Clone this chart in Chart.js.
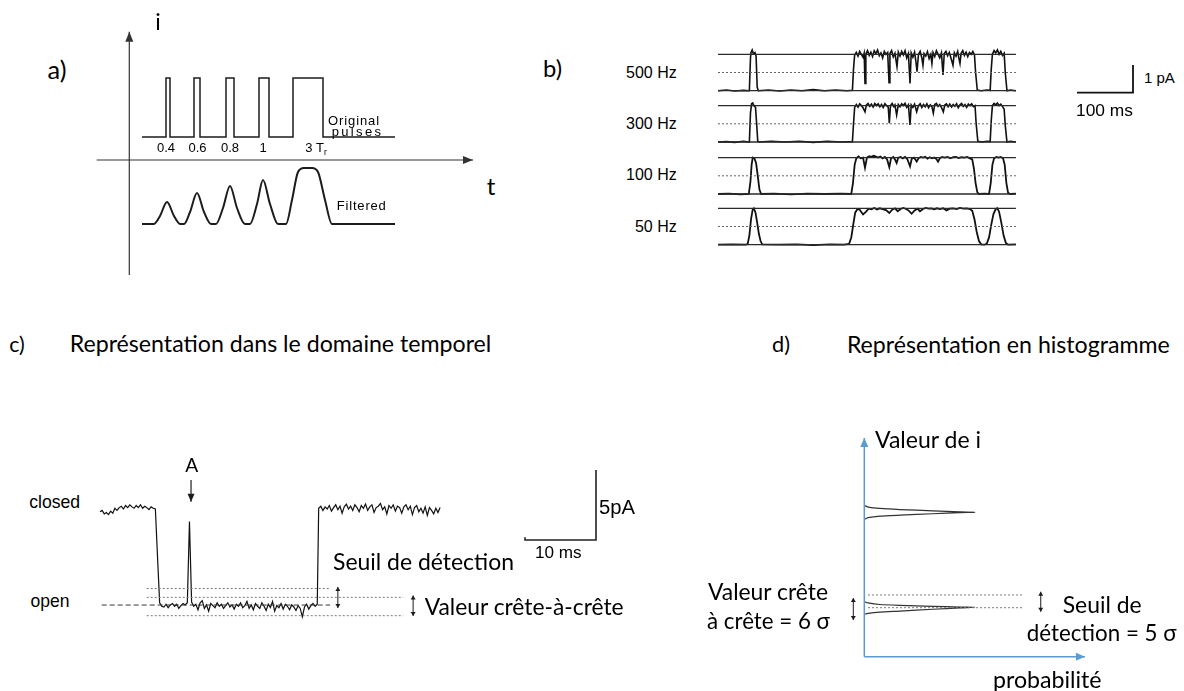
<!DOCTYPE html>
<html lang="fr">
<head>
<meta charset="UTF-8">
<script src="https://cdn.jsdelivr.net/npm/chart.js"></script>
<title>Filtrage et seuil de détection</title>
<style>
  body { margin: 0; width: 1184px; height: 691px; background: #fff; position: relative; overflow: hidden; }
  canvas { position: absolute; }
  .lbl { position: absolute; white-space: nowrap; line-height: 1; color: #000; }
  .lbl sub { font-size: 65%; vertical-align: -0.3em; line-height: 0; }
</style>
</head>
<body>
<script>
// ---------- a) pulses (time in units of Tr, current in arbitrary units) ----------
const pulseStart = [3.67, 6.47, 9.67, 12.97, 16.37];
const pulseWidth = [0.4, 0.6, 0.8, 1, 3];
const pulseLabels = ['0.4', '0.6', '0.8', '1', '3 T<sub>r</sub>'];
const pulseBase = 2.3, pulseTop = 8.2, pulseFrom = 1.27, pulseTo = 26.57;
const filtT = [1.27, 2.47, 3.07, 3.77, 4.47, 5.07, 5.47, 6.07, 6.77, 7.47, 8.17, 8.67, 9.37, 10.07, 10.77,
               11.57, 12.07, 12.77, 13.37, 14.07, 14.87, 15.67, 16.27, 16.87, 17.47, 18.27, 18.87, 19.57, 20.27, 26.57];
const filtI = [-6.4, -6.4, -5.6, -4.2, -5.6, -6.4, -6.4, -5.2, -3.3, -5.2, -6.4, -6.4, -4.8, -2.6, -4.8,
               -6.4, -6.4, -4.4, -2.0, -4.4, -6.4, -6.4, -4.0, -1.2, -0.8, -0.8, -1.2, -4.0, -6.4, -6.4];

// ---------- b) single-channel records at 4 filter cut-offs (ms, fraction of unit current) ----------
const filterLabels = ['500 Hz', '300 Hz', '100 Hz', '50 Hz'];
const trace500 = [[0,0],[15,0.02],[30,-0.01],[45,0.01],[56,0],[58,0.9],[59,1.05],[61,1.12],[63,1.02],[66,1.05],[68,0.95],[70,0.1],[72,0],
  [90,0.02],[110,-0.01],[130,0.02],[150,0],[170,0.03],[190,0],[210,0.02],[230,0],[240,0.01],[242,0.6],[244,0.98],[247,1.05],[250,0.95],
  [253,1.08],[256,1],[259,0.92],[261,1.03],[262.5,0.2],[264,1],[267,1.1],[270,0.97],[273,1.06],[276,0.94],[279,1.1],[282,1.02],[285,1.12],
  [288,0.96],[291,1.04],[294,0.9],[297,1.08],[300,1],[303,1.05],[305.4,0.22],[307,1.02],[310,1.1],[313,0.93],[316,1.03],[319.6,0.66],
  [322,1.06],[325,0.95],[328,1.08],[331,0.98],[334,1.1],[337,0.9],[340,1.02],[342.9,0.2],[345,1.04],[348,0.92],[351,1.06],[353,0.85],
  [355.4,0.52],[358,1],[361,1.08],[364,0.9],[366,0.7],[368,1.02],[371,0.95],[374,1.07],[377,0.88],[380,1],[382,0.75],[384,1.05],[387,0.94],
  [390,1.1],[393,1],[396,0.9],[399,1.04],[401.8,0.43],[404,1.02],[407,1.08],[410,0.96],[413,1.05],[416,0.9],[419.6,0.7],[422,1.04],
  [425,0.95],[428,1.08],[430,0.9],[432.1,0.75],[434,1.02],[437,1.1],[440,0.97],[443,1.06],[446,0.94],[449,1.05],[452,1],[455,1.08],
  [458,0.98],[460,0.5],[463,0.02],[470,0],[480,0.02],[486,0.01],[488,0.6],[490,1],[493,1.1],[496,1.04],[499,1.12],[502,1],[505,1.08],
  [508,0.97],[511,1.03],[513,0.5],[516,0],[522,0.02],[532,0]];
const trace300 = [[0,0],[15,0.01],[30,-0.01],[45,0.02],[56,0],[58,0.8],[60,1.05],[62,1.07],[64,1],[67,0.95],[69,0.5],[71,0.02],[73,0],
  [95,0.02],[120,0],[145,0.02],[170,-0.01],[195,0.02],[220,0],[240,0.01],[242,0.5],[244,0.95],[247,1.03],[250,0.96],[253,1.05],[256,1],
  [259,0.94],[262.5,0.83],[265,1.02],[268,1.06],[271,0.98],[274,1.04],[277,0.96],[280,1.06],[283,1],[286,1.05],[289,0.97],[292,1.03],
  [295,0.95],[298,1.05],[301,1],[304,0.96],[305.9,0.52],[308,1],[311,1.06],[314,0.97],[316,1.02],[319,0.74],[322,1.03],[325,0.97],
  [328,1.05],[331,1],[334,1.06],[337,0.95],[340,1.02],[342.9,0.47],[345,1.02],[348,0.95],[351,1.04],[354.8,0.83],[358,1],[361,1.05],
  [364,0.95],[367,1.03],[370,0.97],[373,1.05],[376,0.94],[379,1.02],[382,0.97],[384.5,0.79],[387,1.03],[390,1.06],[393,0.98],[396,1.03],
  [399,0.95],[402.4,0.83],[405,1.02],[408,1.05],[411,0.97],[414,1.04],[417,0.96],[420,1.03],[423,0.98],[426,1.05],[429,0.94],[432,1.02],
  [435,1.06],[438,0.98],[441,1.03],[444,0.95],[447,1.04],[450,1],[453,1.05],[456,0.97],[459,1],[461,0.5],[464,0.02],[472,0],[480,0.02],
  [486,0.01],[488,0.6],[490,1],[493,1.06],[496,1.02],[499,1.07],[502,1],[505,1.04],[508,0.98],[511,0.9],[513,0.45],[516,0],[522,0.02],[532,0]];
const trace100 = [[0,0],[20,0.01],[40,-0.01],[55,0],[58,0.35],[60,0.8],[62,1],[65,0.98],[68,0.85],[71,0.5],[74,0.12],[77,0],[100,0.01],
  [130,-0.01],[160,0.01],[190,0],[220,0.01],[238,0],[241,0.3],[244,0.8],[247,0.98],[251,1.03],[255,0.98],[259,1],[262.5,0.72],[266,1],
  [270,1.04],[274,1.02],[278,1.05],[282,1.03],[286,1],[290,1.03],[294,0.98],[298,1.02],[302,0.95],[305.9,0.74],[309,0.98],[313,1.02],
  [316,0.95],[319,0.85],[322,1],[326,1.02],[330,0.98],[334,1.02],[338,0.96],[342.9,0.76],[346,0.97],[350,1],[354.8,0.89],[358,0.98],
  [362,1.02],[366,1],[370,1.02],[374,0.97],[378,1.01],[382,0.98],[386,1],[390,0.96],[393,0.89],[396,0.98],[400,1.02],[405,1],[410,1.02],
  [415,0.98],[420,1.01],[425,1.02],[430,0.99],[435,1.01],[440,1],[445,1.02],[450,0.98],[454,0.95],[457,0.7],[460,0.3],[463,0.05],[466,0],
  [476,0.01],[484,0],[487,0.3],[490,0.8],[493,0.98],[497,1.02],[501,1],[505,1.02],[509,0.98],[512,0.8],[515,0.3],[518,0.03],[522,0],[532,0.01]];
const trace50 = [[0,0],[25,0.01],[50,0],[53,0.02],[56,0.25],[59,0.7],[62,0.97],[64,1],[67,0.88],[70,0.6],[73,0.3],[76,0.1],[79,0.01],
  [110,0],[140,0.01],[170,-0.01],[200,0.01],[225,0],[234,0.02],[238,0.2],[242,0.6],[245,0.88],[249,0.98],[253,0.96],[259,0.83],[264,0.9],
  [269,0.99],[274,0.97],[279,1.01],[284,0.97],[289,1],[294,0.98],[300,0.95],[305.9,0.87],[311,0.96],[316,1],[321,0.92],[326,0.98],
  [331,1.01],[336,0.98],[341,0.93],[345.8,0.85],[351,0.94],[356,0.99],[360.7,0.92],[366,0.98],[371,1.01],[376,0.99],[381,1],[386,0.97],
  [391,1],[396,0.98],[402,1],[408,0.94],[414,0.99],[420,1],[426,0.98],[432,1.01],[438,0.99],[444,1],[450,0.98],[454,0.93],[458,0.7],
  [462,0.35],[466,0.1],[470,0.01],[476,0],[480,0.03],[484,0.2],[488,0.55],[492,0.85],[496,0.98],[499,1],[502,0.9],[506,0.6],[510,0.25],
  [514,0.05],[518,0],[532,0.01]];
const levelsB = [0, 0.5, 1];          // closed, half (threshold), open
const spanB = [0, 532];               // ms
const scaleBarB = { ms: 100, pA: 1 };

// ---------- c) time-domain record (ms, pA; closed = 0) ----------
const dtC = 0.3;
const segStartC = [0, 8.4, 30.8];
const closedA = [-0.2,-0.1,-0.35,-0.25,-0.4,-0.15,-0.3,0.05,-0.1,0.1,0.2,0,0.25,0.1,0.3,0.15,0.05,0.25,0.1,0.3,
  0.05,0.2,0.1,-0.05,0.15,0.05,0,-3.4];
const openB = [-6.7,-6.95,-7,-6.8,-7.05,-6.85,-6.75,-6.95,-6.8,-7.1, -6.9,-6.75,-6.85,-6.7,-0.9,-6.65,-6.95,-6.8,-7.2,-6.7,
  -6.55,-7.1,-6.85,-7.3,-6.75,-6.9,-7.05,-6.7,-6.95,-6.8, -7.1,-6.9,-6.7,-7,-6.85,-7.15,-6.8,-6.95,-6.7,-7.05,
  -6.9,-6.6,-7.1,-6.85,-7.2,-6.75,-6.95,-7.1,-6.7,-6.95, -7.25,-6.8,-7.05,-6.6,-7.3,-6.9,-7.05,-6.75,-7.15,-6.8,
  -6.95,-7.2,-6.85,-7,-7.25,-6.9,-7.1,-7.7,-7,-6.8, -7.15,-6.9,-6.75,-6.95,-6.8];
const closedC = [0.05,0.2,-0.1,0.15,0,0.25,-0.15,0.1,0.3,-0.05, 0.2,-0.3,0.15,0.35,0,0.2,-0.1,0.3,0.1,-0.2,
  0.25,0.05,0.35,-0.1,0.15,0.3,-0.25,0.1,0.2,0.4, -0.05,0.15,-0.35,0.25,0.05,0.3,-0.15,0.2,0.1,-0.3,
  0.15,0.3,-0.05,0.2,-0.4,0.1,0.25,-0.2,0.05,-0.3, 0.15,-0.45,0.1,-0.1,-0.35,0.05,-0.25,0.1];
const openLevelC = -6.86;
const thresholdC = -5.68;
const peakToPeakC = [-6.31, -7.62];
const scaleBarC = { ms: 10, pA: 5 };

// ---------- d) amplitude histogram (probability, current in pA) ----------
const histP = [0, 0.017, 0.071, 0.162, 0.312, 0.435, 0.503, 0.435, 0.312, 0.162, 0.071, 0.017, 0];
const histClosedI = [10.8, 10.69, 10.59, 10.51, 10.42, 10.34, 10.31, 10.29, 10.21, 10.11, 10.04, 9.93, 9.81];
const histOpenI = [3.93, 3.84, 3.73, 3.67, 3.6, 3.55, 3.53, 3.49, 3.39, 3.26, 3.19, 3.1, 3.03];
const levelsD = [4.41, 3.5];

// ---------- drawing helpers ----------
const INK = '#1c1c1c', DOT = '#7a7a7a', BLUE = '#5b9bd5';

function arrowHead(ctx, fx, fy, tx, ty, len, half) {
  const a = Math.atan2(ty - fy, tx - fx), c = Math.cos(a), s = Math.sin(a);
  ctx.beginPath();
  ctx.moveTo(tx, ty);
  ctx.lineTo(tx - len * c - half * s, ty - len * s + half * c);
  ctx.lineTo(tx - len * c + half * s, ty - len * s - half * c);
  ctx.closePath();
  ctx.fill();
}

const decor = {
  id: 'decor',
  afterDatasetsDraw(chart, args, opts) {
    const { ctx, scales: { x, y } } = chart;
    (opts.arrows || []).forEach(a => {
      const x1 = x.getPixelForValue(a.x1), y1 = y.getPixelForValue(a.y1);
      const x2 = x.getPixelForValue(a.x2), y2 = y.getPixelForValue(a.y2);
      ctx.save();
      ctx.strokeStyle = ctx.fillStyle = a.c || INK;
      ctx.lineWidth = a.lw || 1;
      ctx.beginPath(); ctx.moveTo(x1, y1); ctx.lineTo(x2, y2); ctx.stroke();
      arrowHead(ctx, x1, y1, x2, y2, a.len || 6, a.half || 3);
      if (a.both) arrowHead(ctx, x2, y2, x1, y1, a.len || 6, a.half || 3);
      ctx.restore();
    });
  }
};

function line(points, color, width, extra) {
  return Object.assign({ data: points, borderColor: color, borderWidth: width, pointRadius: 0, fill: false, clip: false }, extra || {});
}
const pairs = arr => arr.map(p => ({ x: p[0], y: p[1] }));
const hline = (yv, x0, x1) => [{ x: x0, y: yv }, { x: x1, y: yv }];

// box in page pixels, origin = page pixel of (0,0), ppx/ppy = pixels per data unit
function panel(box, origin, ppx, ppy, datasets, arrows) {
  const c = document.createElement('canvas');
  c.width = box.w; c.height = box.h;
  c.style.left = box.l + 'px'; c.style.top = box.t + 'px';
  document.body.appendChild(c);
  return new Chart(c, {
    type: 'line',
    data: { datasets },
    options: {
      responsive: false, animation: false, events: [],
      layout: { padding: 0 },
      plugins: { legend: { display: false }, tooltip: { enabled: false }, decor: { arrows: arrows || [] } },
      scales: {
        x: { type: 'linear', display: false, min: (box.l - origin.x) / ppx, max: (box.l + box.w - origin.x) / ppx },
        y: { type: 'linear', display: false, min: (origin.y - box.t - box.h) / ppy, max: (origin.y - box.t) / ppy }
      }
    },
    plugins: [decor]
  });
}

// ---------- a) ----------
const pulsePts = [{ x: pulseFrom, y: pulseBase }];
pulseStart.forEach((s, k) => {
  const e = s + pulseWidth[k];
  pulsePts.push({ x: s, y: pulseBase }, { x: s, y: pulseTop }, { x: e, y: pulseTop }, { x: e, y: pulseBase });
});
pulsePts.push({ x: pulseTo, y: pulseBase });
panel({ l: 90, t: 25, w: 395, h: 255 }, { x: 129.3, y: 160 }, 10, 10, [
  line(pulsePts, INK, 1.5),
  line(filtT.map((t, k) => ({ x: t, y: filtI[k] })), INK, 2, { cubicInterpolationMode: 'monotone' })
], [
  { x1: -3.26, y1: 0, x2: 34.37, y2: 0, c: '#333', lw: 1.2, len: 10, half: 4 },
  { x1: 0, y1: -11.5, x2: 0, y2: 12.83, c: '#333', lw: 1.2, len: 10, half: 4 }
]);

// ---------- b) ----------
const rowBase = [90.7, 142, 194, 244.7];
[trace500, trace300, trace100, trace50].forEach((tr, r) => {
  panel({ l: 710, t: Math.round(rowBase[r] - 50), w: 310, h: 58 }, { x: 718, y: rowBase[r] }, 0.56, 36.4, [
    line(hline(levelsB[2], spanB[0], spanB[1]), '#2a2a2a', 1.3),
    line(hline(levelsB[0], spanB[0], spanB[1]), '#2a2a2a', 1.3),
    line(hline(levelsB[1], spanB[0], spanB[1]), '#666', 1, { borderDash: [2, 2] }),
    line(pairs(tr), '#111', r < 2 ? 1.6 : 1.8)
  ]);
});
panel({ l: 1066, t: 58, w: 74, h: 40 }, { x: 1133, y: 92.7 }, 0.56, 27.7, [
  line([{ x: -scaleBarB.ms, y: 0 }, { x: 0, y: 0 }, { x: 0, y: scaleBarB.pA }], '#111', 1.8)
]);

// ---------- c) ----------
const traceC = [];
[closedA, openB, closedC].forEach((seg, s) => seg.forEach((v, k) => traceC.push({ x: segStartC[s] + k * dtC, y: v })));
const barCx = 69.86, barCy = -2.21;   // corner of the scale bar (ms, pA)
panel({ l: 86, t: 440, w: 560, h: 200 }, { x: 100, y: 509 }, 7.1, 14, [
  line(hline(openLevelC, 0.24, 32.4), '#333', 1, { borderDash: [5, 3] }),
  line(hline(thresholdC, 6.58, 32.4), DOT, 1, { borderDash: [2, 2] }),
  line(hline(peakToPeakC[0], 6.58, 42.7), DOT, 1, { borderDash: [2, 2] }),
  line(hline(peakToPeakC[1], 6.58, 42.7), DOT, 1, { borderDash: [2, 2] }),
  line(traceC, '#111', 1.2),
  line([{ x: barCx - scaleBarC.ms, y: barCy + 0.2 }, { x: barCx - scaleBarC.ms, y: barCy }, { x: barCx, y: barCy },
        { x: barCx, y: barCy + scaleBarC.pA }], '#222', 1.6)
], [
  { x1: 12.82, y1: 2.07, x2: 12.82, y2: 0.52, lw: 1.2, len: 8, half: 3.5 },
  { x1: 33.5, y1: -5.57, x2: 33.5, y2: -7.07, both: true, lw: 1, len: 4, half: 2.5 },
  { x1: 44.1, y1: -6.18, x2: 44.1, y2: -7.64, both: true, lw: 1, len: 4, half: 2.5 }
]);

// ---------- d) ----------
panel({ l: 830, t: 425, w: 270, h: 240 }, { x: 864.3, y: 656.7 }, 220, 14, [
  line(hline(levelsD[0], 0.017, 0.726), DOT, 1, { borderDash: [2, 2] }),
  line(hline(levelsD[1], 0.017, 0.726), DOT, 1, { borderDash: [2, 2] }),
  line(histP.map((p, k) => ({ x: p, y: histClosedI[k] })), '#333', 1.2, { tension: 0.2 }),
  line(histP.map((p, k) => ({ x: p, y: histOpenI[k] })), '#333', 1.2, { tension: 0.2 })
], [
  { x1: 0, y1: 0, x2: 0, y2: 15.62, c: BLUE, lw: 1.5, len: 9, half: 4 },
  { x1: 0, y1: 0, x2: 1.003, y2: 0, c: BLUE, lw: 1.5, len: 9, half: 4 },
  { x1: -0.05, y1: 4.19, x2: -0.05, y2: 2.62, both: true, lw: 1, len: 4, half: 2.5 },
  { x1: 0.802, y1: 4.64, x2: 0.802, y2: 3.21, both: true, lw: 1, len: 4, half: 2.5 }
]);

// ---------- text ----------
// w = target width; fit 'size' scales the font, fit 'ls' widens letter spacing
const LATO = 'Lato, "Open Sans", sans-serif', SANS = '"Liberation Sans", Arial, sans-serif';
const labels = [
  { t: 'a)', x: 57, y: 70, w: 19, f: LATO, s: 22 },
  { t: 'i', x: 158, y: 21, f: LATO, s: 23 },
  { t: 't', x: 491, y: 186, f: LATO, s: 24 },
  { t: 'Original', x: 354, y: 120, w: 52, fit: 'ls', f: SANS, s: 13 },
  { t: 'pulses', x: 357.5, y: 131, w: 51.6, fit: 'ls', f: SANS, s: 13 },
  { t: 'Filtered', x: 361.7, y: 205, w: 50, fit: 'ls', f: SANS, s: 13 },
  { t: 'b)', x: 552.5, y: 69, w: 19, f: LATO, s: 22 },
  { t: '1 pA', x: 1144, y: 77, a: 'l', f: SANS, s: 15 },
  { t: '100 ms', x: 1104.5, y: 111, w: 57, f: SANS, s: 16 },
  { t: 'c)', x: 17, y: 345, w: 15.6, f: LATO, s: 22 },
  { t: 'Représentation dans le domaine temporel', x: 280.5, y: 344, w: 422, f: LATO, s: 22 },
  { t: 'closed', x: 54.7, y: 503, w: 51, f: SANS, s: 17 },
  { t: 'open', x: 50, y: 602, w: 39, f: SANS, s: 17 },
  { t: 'A', x: 191.7, y: 465, w: 13, f: LATO, s: 22 },
  { t: 'Seuil de détection', x: 423.5, y: 561, w: 181, f: LATO, s: 22 },
  { t: 'Valeur crête-à-crête', x: 524.2, y: 606, w: 199, f: LATO, s: 22 },
  { t: '5pA', x: 617, y: 506.7, w: 36, f: SANS, s: 16 },
  { t: '10 ms', x: 558.3, y: 553, w: 46.7, f: SANS, s: 16 },
  { t: 'd)', x: 781, y: 345, w: 18, f: LATO, s: 22 },
  { t: 'Représentation en histogramme', x: 1008.3, y: 345, w: 323, f: LATO, s: 22 },
  { t: 'Valeur de i', x: 928, y: 440, w: 106, f: LATO, s: 22 },
  { t: 'Valeur crête', x: 768, y: 591.7, w: 120, f: LATO, s: 22 },
  { t: 'à crête = 6 σ', x: 768.5, y: 621, w: 123, f: LATO, s: 22 },
  { t: 'Seuil de', x: 1102.2, y: 604, w: 79, f: LATO, s: 22 },
  { t: 'détection = 5 σ', x: 1101.7, y: 633.3, w: 150, f: LATO, s: 22 },
  { t: 'probabilité', x: 1047.3, y: 680, w: 108.7, f: LATO, s: 22 }
];
const pulseLabelX = [166, 197.5, 230, 263, 316];
pulseLabels.forEach((t, k) => labels.push({ t, x: pulseLabelX[k], y: 147, f: SANS, s: 13 }));
const rowLabelY = [72.7, 124, 175.3, 226.7];
filterLabels.forEach((t, k) => labels.push({ t, x: 676.7, y: rowLabelY[k], a: 'r', f: SANS, s: 16 }));

labels.forEach(L => {
  const d = document.createElement('div');
  d.className = 'lbl';
  d.innerHTML = L.t;
  d.style.fontFamily = L.f;
  d.style.fontSize = L.s + 'px';
  document.body.appendChild(d);
  if (L.w) {
    const w0 = d.getBoundingClientRect().width;
    if (L.fit === 'ls') d.style.letterSpacing = ((L.w - w0) / d.textContent.length) + 'px';
    else d.style.fontSize = (L.s * L.w / w0) + 'px';
  }
  const r = d.getBoundingClientRect();
  const left = L.a === 'l' ? L.x : L.a === 'r' ? L.x - r.width : L.x - r.width / 2;
  d.style.left = left + 'px';
  d.style.top = (L.y - r.height / 2) + 'px';
});
</script>
</body>
</html>
